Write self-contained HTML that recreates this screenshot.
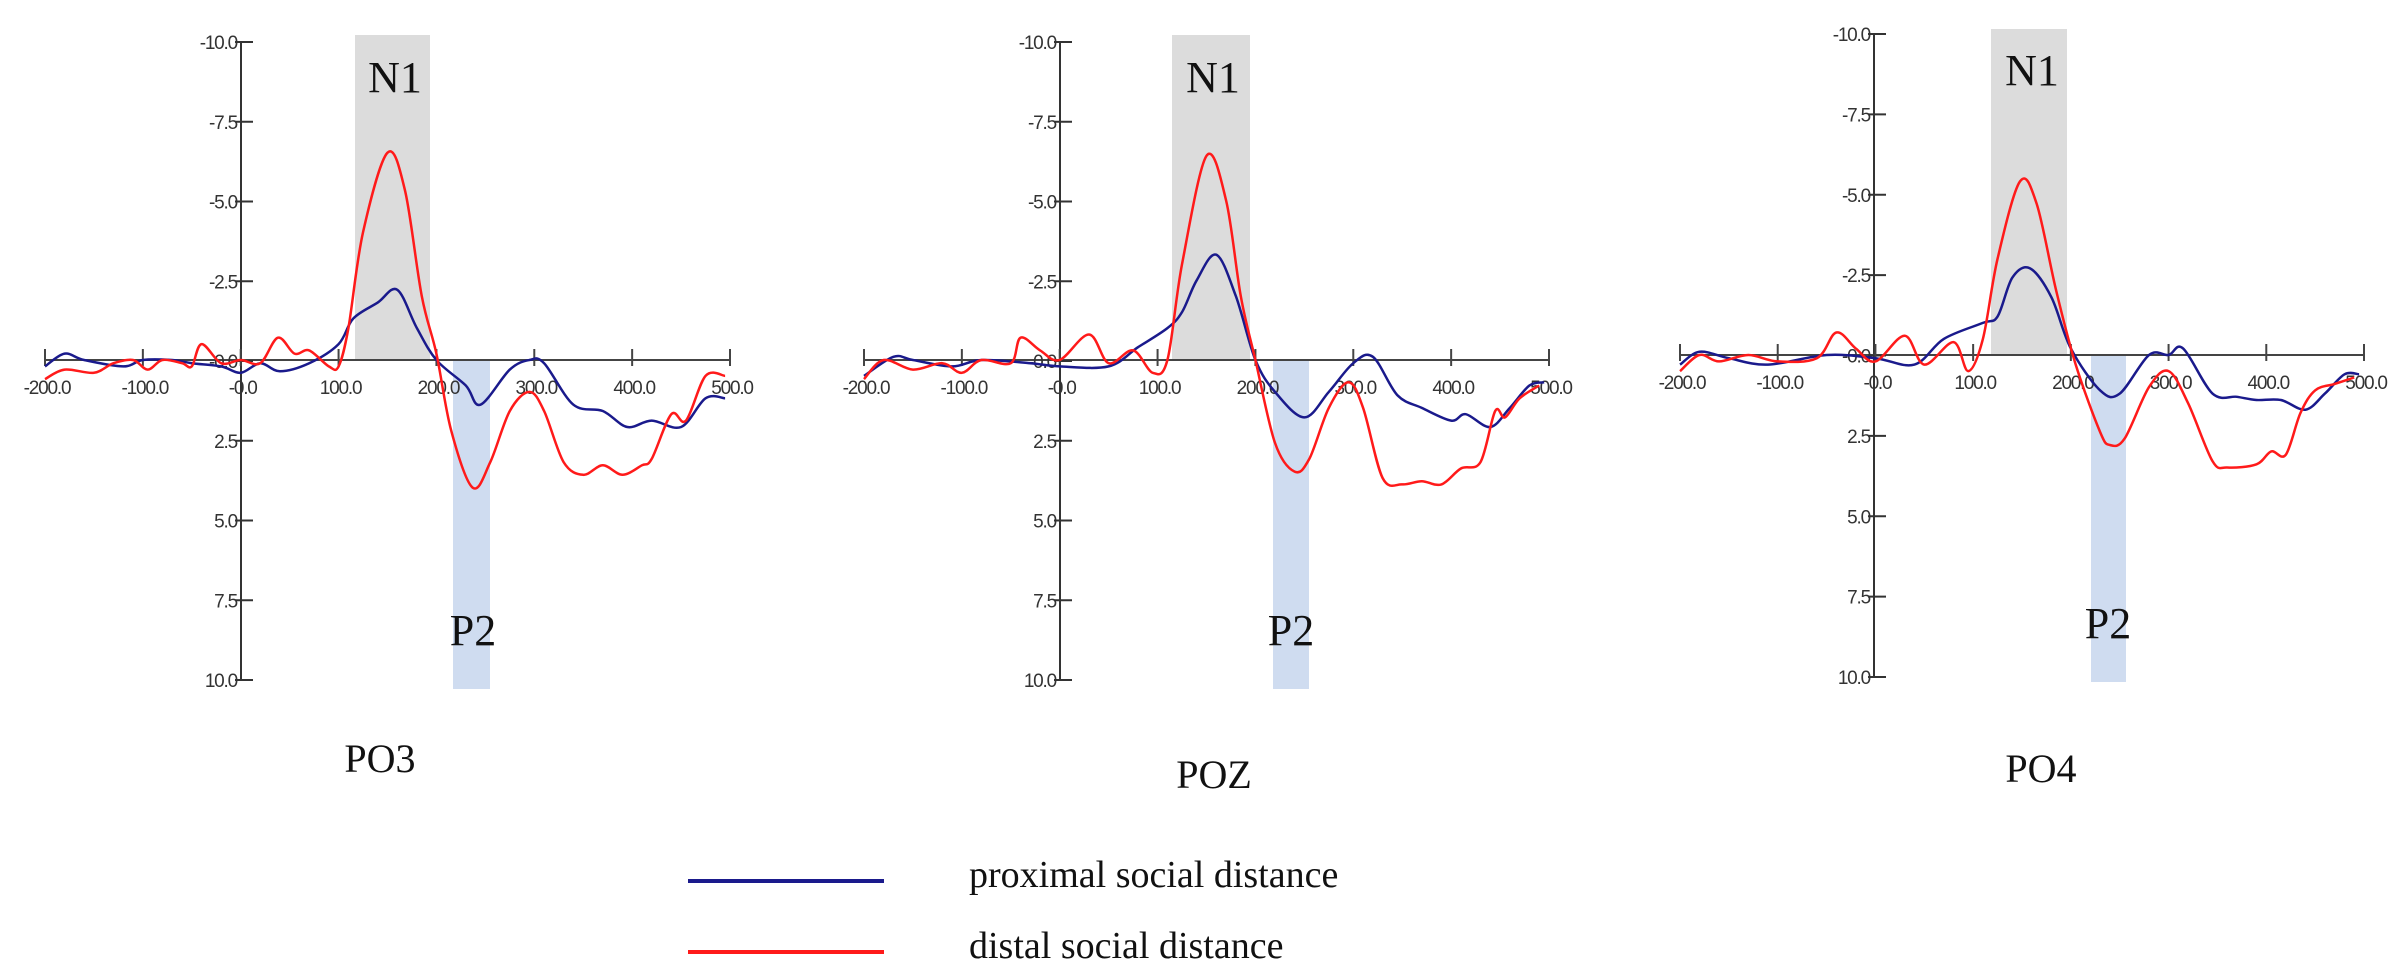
<!DOCTYPE html>
<html><head><meta charset="utf-8">
<style>
html,body{margin:0;padding:0;background:#fff;}
svg{display:block;}
.t{font-family:"Liberation Sans Narrow","Liberation Sans",sans-serif;font-size:19px;fill:#333;letter-spacing:-1.2px;}
.s{font-family:"Liberation Serif",serif;fill:#111;}
</style></head><body>
<svg id="g" width="2403" height="979" xmlns="http://www.w3.org/2000/svg">
<text class="s" x="380" y="772" font-size="40" text-anchor="middle">PO3</text>
<text class="s" x="1214" y="788" font-size="40" text-anchor="middle">POZ</text>
<text class="s" x="2041" y="782" font-size="40" text-anchor="middle">PO4</text>
<line x1="688" y1="881" x2="884" y2="881" stroke="#1a1a8c" stroke-width="4"/>
<line x1="688" y1="952" x2="884" y2="952" stroke="#ff1a1a" stroke-width="4"/>
<text class="s" x="969" y="887" font-size="38">proximal social distance</text>
<text class="s" x="969" y="958" font-size="38">distal social distance</text>
</svg>
<script>
var P=[
{ax:241,x0:45,x1:730,top:42,zero:360,bot:680,n1:[355,430,35],p2:[453,490,689],n1t:[395,92],p2t:[473,645],
red:[[-200,0.6],[-180,0.3],[-150,0.4],[-130,0.1],[-110,0.0],[-95,0.3],[-80,0.0],[-60,0.1],[-50,0.2],[-40,-0.5],[-20,0.1],[0,0],[20,0.1],[38,-0.7],[55,-0.2],[70,-0.3],[90,0.2],[100,0.2],[110,-1.0],[125,-4],[150,-6.5],[168,-5.3],[185,-2],[200,-0.2],[215,2.2],[237,4.0],[255,3.2],[275,1.6],[295,1.0],[310,1.6],[330,3.2],[350,3.6],[370,3.3],[390,3.6],[410,3.3],[420,3.1],[440,1.7],[455,1.9],[475,0.5],[495,0.5]],
blue:[[-200,0.2],[-180,-0.2],[-160,0],[-120,0.2],[-100,0],[-70,0],[-50,0.1],[-20,0.2],[0,0.4],[20,0.1],[40,0.35],[70,0.1],[100,-0.5],[115,-1.3],[140,-1.8],[160,-2.2],[180,-1.0],[200,0],[230,0.8],[245,1.4],[275,0.3],[295,0],[310,0.1],[340,1.4],[370,1.6],[395,2.1],[420,1.9],[450,2.1],[475,1.2],[495,1.2]]},
{ax:1060,x0:864,x1:1549,top:42,zero:360,bot:680,n1:[1172,1250,35],p2:[1273,1309,689],n1t:[1213,92],p2t:[1291,645],
red:[[-200,0.6],[-180,0],[-150,0.3],[-120,0.1],[-100,0.4],[-80,0],[-50,0.1],[-40,-0.7],[-20,-0.3],[0,0],[30,-0.8],[50,0.1],[75,-0.3],[95,0.4],[110,0],[125,-3],[150,-6.4],[170,-5],[185,-2],[200,0],[220,2.6],[240,3.5],[255,3.1],[275,1.5],[295,0.7],[310,1.5],[330,3.7],[350,3.9],[370,3.8],[390,3.9],[410,3.4],[430,3.2],[445,1.6],[455,1.8],[470,1.2],[490,0.8]],
blue:[[-200,0.5],[-170,-0.1],[-150,0],[-110,0.2],[-80,0],[-30,0.1],[0,0.2],[50,0.2],[80,-0.4],[110,-1.0],[125,-1.5],[140,-2.5],[160,-3.3],[180,-2.0],[200,0],[220,1.0],[250,1.8],[275,1.0],[300,0.1],[320,-0.1],[345,1.1],[370,1.5],[400,1.9],[415,1.7],[440,2.1],[460,1.5],[480,0.8],[495,0.7]]},
{ax:1874,x0:1680,x1:2364,top:34,zero:355,bot:677,n1:[1991,2067,29],p2:[2091,2126,682],n1t:[2032,85],p2t:[2108,638],
red:[[-200,0.5],[-180,0],[-160,0.2],[-130,0],[-100,0.2],[-60,0.1],[-40,-0.7],[-20,-0.2],[0,0.2],[30,-0.6],[50,0.3],[80,-0.4],[95,0.5],[110,-0.5],[125,-3],[148,-5.4],[165,-4.7],[185,-2],[205,0.3],[230,2.4],[240,2.8],[255,2.6],[280,1.0],[300,0.5],[320,1.5],[345,3.3],[360,3.5],[390,3.4],[405,3.0],[420,3.1],[435,1.8],[450,1.1],[470,0.9],[490,0.7]],
blue:[[-200,0.3],[-180,-0.1],[-150,0.1],[-110,0.3],[-50,0],[0,0.1],[40,0.3],[70,-0.5],[110,-1.0],[125,-1.2],[140,-2.4],[158,-2.7],[180,-1.8],[200,-0.2],[230,1.1],[250,1.2],[280,0],[300,0],[315,-0.2],[345,1.2],[370,1.3],[390,1.4],[415,1.4],[440,1.7],[460,1.2],[480,0.6],[495,0.6]]}
];
var svg=document.getElementById('g'),h='';
function path(pts){var d='M'+pts[0][0].toFixed(1)+','+pts[0][1].toFixed(1);
for(var i=0;i<pts.length-1;i++){var p0=pts[Math.max(0,i-1)],p1=pts[i],p2=pts[i+1],p3=pts[Math.min(pts.length-1,i+2)];
d+=' C'+(p1[0]+(p2[0]-p0[0])/6).toFixed(1)+','+(p1[1]+(p2[1]-p0[1])/6).toFixed(1)+' '+(p2[0]-(p3[0]-p1[0])/6).toFixed(1)+','+(p2[1]-(p3[1]-p1[1])/6).toFixed(1)+' '+p2[0].toFixed(1)+','+p2[1].toFixed(1);}
return d;}
P.forEach(function(p){
var sx=function(t){return p.x0+(t+200)/700*(p.x1-p.x0);},u=(p.bot-p.top)/20,sy=function(v){return p.zero+v*u;};
h+='<rect x="'+p.n1[0]+'" y="'+p.n1[2]+'" width="'+(p.n1[1]-p.n1[0])+'" height="'+(p.zero-p.n1[2])+'" fill="#dcdcdc"/>';
h+='<rect x="'+p.p2[0]+'" y="'+p.zero+'" width="'+(p.p2[1]-p.p2[0])+'" height="'+(p.p2[2]-p.zero)+'" fill="#cfdcf0"/>';
h+='<line x1="'+p.ax+'" y1="'+p.top+'" x2="'+p.ax+'" y2="'+p.bot+'" stroke="#333" stroke-width="2"/>';
h+='<line x1="'+p.x0+'" y1="'+p.zero+'" x2="'+p.x1+'" y2="'+p.zero+'" stroke="#444" stroke-width="2"/>';
var yl=['-10.0','-7.5','-5.0','-2.5','-0.0','2.5','5.0','7.5','10.0'];
for(var i=0;i<9;i++){var y=p.top+i*(p.bot-p.top)/8;
h+='<line x1="'+(p.ax-6)+'" y1="'+y+'" x2="'+(p.ax+12)+'" y2="'+y+'" stroke="#333" stroke-width="2"/>';
h+='<text class="t" x="'+(p.ax-4)+'" y="'+(y+7)+'" text-anchor="end">'+yl[i]+'</text>';}
var xl=['-200.0','-100.0','-0.0','100.0','200.0','300.0','400.0','500.0'];
for(var i=0;i<8;i++){var x=sx(-200+i*100);
h+='<line x1="'+x+'" y1="'+(p.zero-11)+'" x2="'+x+'" y2="'+(p.zero+6)+'" stroke="#444" stroke-width="2"/>';
h+='<text class="t" x="'+(x+2)+'" y="'+(p.zero+34)+'" text-anchor="middle">'+xl[i]+'</text>';}
h+='<text class="s" x="'+p.n1t[0]+'" y="'+p.n1t[1]+'" font-size="44" text-anchor="middle">N1</text>';
h+='<text class="s" x="'+p.p2t[0]+'" y="'+p.p2t[1]+'" font-size="44" text-anchor="middle">P2</text>';
h+='<path d="'+path(p.blue.map(function(a){return[sx(a[0]),sy(a[1])]}))+'" fill="none" stroke="#1a1a8c" stroke-width="2.5"/>';
h+='<path d="'+path(p.red.map(function(a){return[sx(a[0]),sy(a[1])]}))+'" fill="none" stroke="#ff1a1a" stroke-width="2.5"/>';
});
svg.insertAdjacentHTML('beforeend',h);
</script>
</body></html>
